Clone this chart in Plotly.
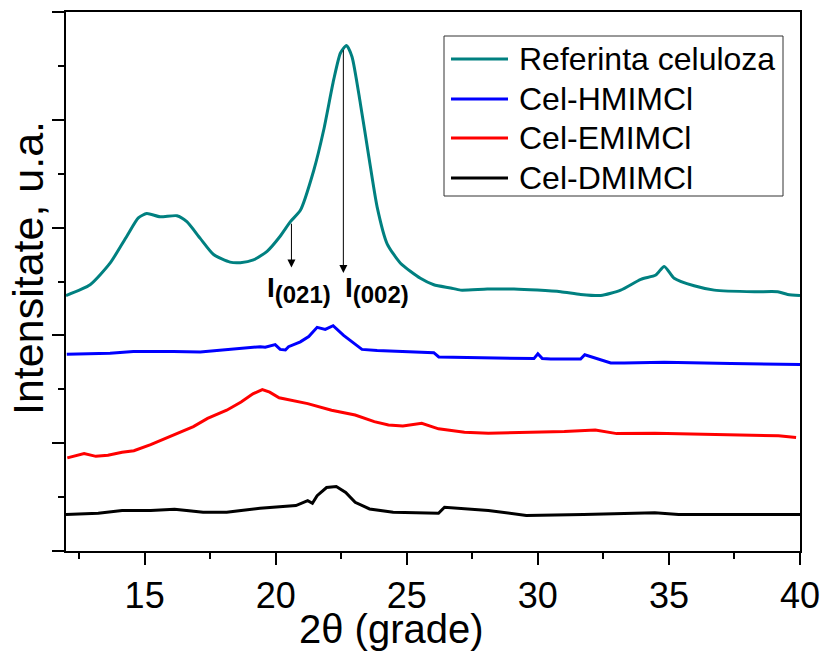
import plotly.graph_objects as go

# ---- data (2theta in degrees, intensity in a.u.) ----
ref_x = [12.0, 12.92, 13.68, 14.32, 14.76, 15.08, 15.59, 16.23, 16.61, 17.12, 17.63, 18.26, 18.65,
         19.15, 19.67, 20.17, 20.56, 20.94, 21.45, 21.83, 22.21, 22.47, 22.70, 22.91, 23.23, 23.55,
         23.87, 24.25, 24.76, 25.52, 26.03, 26.67, 27.05, 28.07, 29.09, 29.98, 30.87, 31.63, 32.40,
         33.16, 33.93, 34.50, 34.82, 35.20, 35.96, 36.73, 38.26, 39.15, 39.53, 40.0]
ref_y = [2.37, 2.47, 2.67, 2.92, 3.09, 3.13, 3.10, 3.11, 3.055, 2.90, 2.75, 2.68, 2.675,
         2.70, 2.78, 2.92, 3.055, 3.16, 3.53, 3.905, 4.37, 4.62, 4.69, 4.585, 4.15, 3.66,
         3.19, 2.85, 2.67, 2.53, 2.47, 2.44, 2.42, 2.43, 2.43, 2.42, 2.405, 2.38, 2.37,
         2.42, 2.52, 2.56, 2.64, 2.53, 2.46, 2.42, 2.405, 2.405, 2.38, 2.37]

hm_x = [12.03, 13.68, 14.57, 15.85, 16.09, 17.12, 18.14, 19.41, 19.6, 19.98, 20.17, 20.37, 20.49,
        20.94, 21.26, 21.58, 21.89, 22.19, 22.59, 22.98, 23.29, 23.87, 25.14, 25.9, 26.03, 26.22,
        27.18, 29.85, 30.0, 30.17, 30.49, 31.63, 31.79, 32.78, 33.29, 34.82, 37.36, 39.91, 40.0]
hm_y = [1.825, 1.835, 1.85, 1.855, 1.85, 1.845, 1.865, 1.895, 1.89, 1.915, 1.87, 1.865, 1.895,
        1.94, 1.99, 2.075, 2.055, 2.09, 2.00, 1.925, 1.87, 1.86, 1.845, 1.84, 1.84, 1.80,
        1.795, 1.785, 1.83, 1.785, 1.78, 1.78, 1.82, 1.745, 1.745, 1.75, 1.74, 1.73, 1.73]

em_x = [12.05, 12.69, 13.14, 13.6, 14.14, 14.59, 15.23, 16.14, 16.86, 17.40, 18.13, 18.68, 19.13,
        19.49, 19.77, 20.13, 21.22, 22.13, 23.03, 23.76, 24.30, 24.85, 25.21, 25.57, 26.21, 27.20,
        28.11, 29.93, 31.01, 32.19, 33.01, 34.46, 36.27, 38.09, 39.18, 39.85]
em_y = [0.864, 0.904, 0.878, 0.888, 0.916, 0.93, 0.986, 1.077, 1.154, 1.23, 1.306, 1.382, 1.458,
        1.498, 1.474, 1.422, 1.367, 1.306, 1.261, 1.20, 1.169, 1.16, 1.175, 1.184, 1.133, 1.102,
        1.093, 1.102, 1.108, 1.123, 1.089, 1.093, 1.086, 1.077, 1.068, 1.053]

dm_x = [12.0, 13.23, 14.14, 15.23, 16.14, 17.23, 18.13, 19.40, 20.77, 21.22, 21.40, 21.58, 21.94,
        22.31, 22.67, 23.03, 23.58, 24.48, 26.21, 26.44, 28.11, 29.56, 31.74, 32.83, 34.46, 35.37, 40.0]
dm_y = [0.339, 0.35, 0.376, 0.376, 0.388, 0.36, 0.36, 0.397, 0.421, 0.467, 0.443, 0.513, 0.589,
        0.598, 0.544, 0.452, 0.39, 0.36, 0.35, 0.406, 0.376, 0.329, 0.339, 0.345, 0.354, 0.339, 0.339]

series_names = ["Referinta celuloza", "Cel-HMIMCl", "Cel-EMIMCl", "Cel-DMIMCl"]
series_colors = ["#008080", "#0000FF", "#FF0000", "#000000"]

# peak annotations: label, x, arrow start y, arrow tip y
peak_labels = ["(021)", "(002)"]
peak_x = [20.6, 22.58]
peak_top = [3.05, 4.66]
peak_tip = [2.63, 2.58]
label_x = [20.9, 23.88]
label_y = [2.42, 2.42]

FONT = "Liberation Sans, Arial, sans-serif"

# ---- layout geometry (pixels in the 826x652 canvas) ----
W, H = 826, 652
PL, PR, PT, PB = 66, 800, 12, 551


def pxx(px):
    return (px - PL) / (PR - PL)


def pxy(py):
    return (PB - py) / (PB - PT)


fig = go.Figure()
for xs, ys, name, col, shape in [
    (ref_x, ref_y, series_names[0], series_colors[0], "spline"),
    (hm_x, hm_y, series_names[1], series_colors[1], "linear"),
    (em_x, em_y, series_names[2], series_colors[2], "linear"),
    (dm_x, dm_y, series_names[3], series_colors[3], "linear"),
]:
    fig.add_trace(go.Scatter(x=xs, y=ys, mode="lines", name=name, showlegend=False,
                             line=dict(color=col, width=3, shape=shape,
                                       smoothing=0.6 if shape == "spline" else None)))

# peak arrows and labels
for lab, px, pt, ptip, lx, ly in zip(peak_labels, peak_x, peak_top, peak_tip, label_x, label_y):
    fig.add_annotation(x=px, y=ptip, ax=px, ay=pt, axref="x", ayref="y", xref="x", yref="y",
                       text="", showarrow=True, arrowhead=2, arrowsize=1.6, arrowwidth=1,
                       arrowcolor="black")
    fig.add_annotation(x=lx, y=ly, xref="x", yref="y", showarrow=False,
                       text="<b>I<sub><span style='font-size:24px'>" + lab + "</span></sub></b>",
                       font=dict(family=FONT, size=28, color="black"))

# legend box (drawn as a framed key)
fig.add_shape(type="rect", xref="paper", yref="paper",
              x0=pxx(444), x1=pxx(783), y0=pxy(196), y1=pxy(36),
              line=dict(color="#333333", width=1), fillcolor="white", layer="above")
row_y = [59, 99, 138, 178]
for name, col, ry in zip(series_names, series_colors, row_y):
    fig.add_shape(type="line", xref="paper", yref="paper",
                  x0=pxx(451), x1=pxx(508), y0=pxy(ry), y1=pxy(ry),
                  line=dict(color=col, width=3), layer="above")
    fig.add_annotation(x=pxx(517), y=pxy(ry), xref="paper", yref="paper",
                       xanchor="left", yanchor="middle", showarrow=False, text=name,
                       font=dict(family=FONT, size=32, color="black"))

# axis titles
fig.add_annotation(x=pxx(391), y=pxy(629), xref="paper", yref="paper", showarrow=False,
                   xanchor="center", yanchor="middle", text="2θ (grade)",
                   font=dict(family=FONT, size=40, color="black"))
fig.add_annotation(x=pxx(28), y=pxy(268), xref="paper", yref="paper", showarrow=False,
                   xanchor="center", yanchor="middle", textangle=-90, text="Intensitate, u.a.",
                   font=dict(family=FONT, size=43, color="black"))

axis_common = dict(showline=True, linecolor="black", linewidth=2, mirror=True,
                   ticks="outside", tickcolor="black", tickwidth=2, ticklen=12,
                   showgrid=False, zeroline=False, automargin=False)

fig.update_xaxes(range=[12, 40], tickvals=[15, 20, 25, 30, 35, 40],
                 minor=dict(dtick=2.5, tick0=12.5, ticks="outside", ticklen=6,
                            tickwidth=2, tickcolor="black", showgrid=False),
                 tickfont=dict(family=FONT, size=36, color="black"),
                 **axis_common)
fig.update_yaxes(range=[0, 5], dtick=1, showticklabels=False,
                 minor=dict(dtick=0.5, ticks="outside", ticklen=6, tickwidth=2,
                            tickcolor="black", showgrid=False),
                 **axis_common)

fig.update_layout(
    width=W, height=H,
    margin=dict(l=PL, r=W - PR, t=PT, b=H - PB, autoexpand=False),
    plot_bgcolor="white", paper_bgcolor="white",
    showlegend=False,
)

fig.write_html("out.html")
